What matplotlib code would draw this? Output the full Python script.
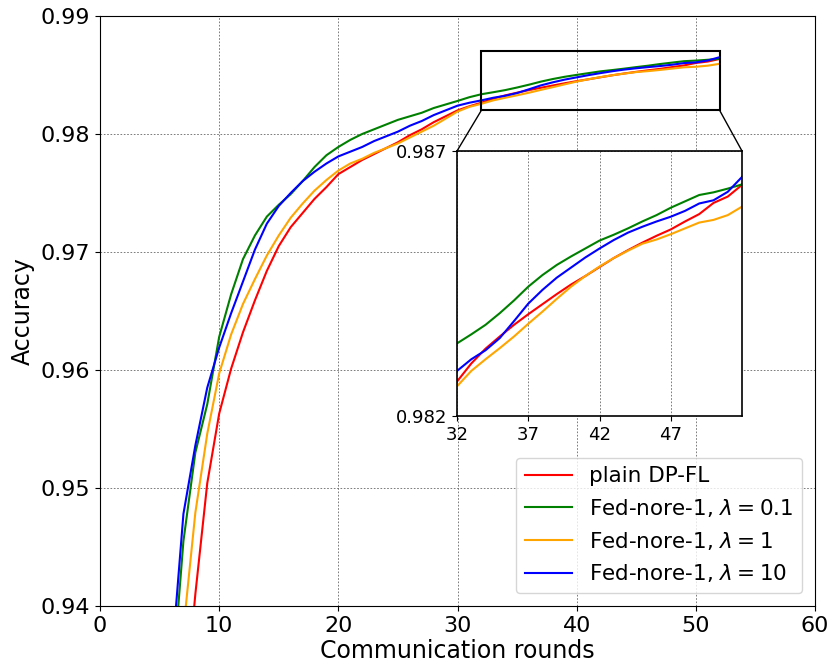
import matplotlib
matplotlib.use("Agg")
import matplotlib.pyplot as plt
from matplotlib.patches import Rectangle, ConnectionPatch

rounds = list(range(5, 53))

plain_dpfl = [0.8800, 0.9050, 0.9299, 0.9410, 0.9504, 0.9563, 0.9601, 0.9632, 0.9659, 0.9684,
              0.9705, 0.9721, 0.9733, 0.9745, 0.9755, 0.9766, 0.9772, 0.9778, 0.9783, 0.9788,
              0.9793, 0.9799, 0.9804, 0.9810, 0.9815, 0.9820, 0.98235, 0.98265, 0.98299, 0.98327,
              0.98350, 0.98372, 0.98392, 0.98411, 0.98430, 0.98448, 0.98464, 0.98481, 0.98498, 0.98513,
              0.98527, 0.98540, 0.98552, 0.98567, 0.98581, 0.98602, 0.98614, 0.98636]

nore_01 = [0.9120, 0.9327, 0.9455, 0.9530, 0.9571, 0.9628, 0.9664, 0.9694, 0.9714, 0.9730,
           0.9740, 0.9749, 0.9760, 0.9772, 0.9782, 0.9789, 0.9795, 0.9800, 0.9804, 0.9808,
           0.9812, 0.9815, 0.9818, 0.9822, 0.9825, 0.9828, 0.98312, 0.98337, 0.98354, 0.98372,
           0.98394, 0.98418, 0.98444, 0.98466, 0.98485, 0.98501, 0.98516, 0.98531, 0.98542, 0.98554,
           0.98567, 0.98579, 0.98593, 0.98605, 0.98617, 0.98622, 0.98629, 0.98637]

nore_1 = [0.8900, 0.9180, 0.9380, 0.9479, 0.9546, 0.9597, 0.9630, 0.9656, 0.9677, 0.9697,
          0.9714, 0.9729, 0.9741, 0.9752, 0.9761, 0.9769, 0.9775, 0.9779, 0.9784, 0.9788,
          0.9792, 0.9797, 0.9802, 0.9807, 0.9813, 0.9819, 0.9823, 0.98256, 0.98285, 0.98307,
          0.98328, 0.98350, 0.98374, 0.98397, 0.98421, 0.98444, 0.98464, 0.98482, 0.98498, 0.98512,
          0.98525, 0.98533, 0.98543, 0.98554, 0.98565, 0.98570, 0.98579, 0.98595]

nore_10 = [0.9150, 0.9352, 0.9478, 0.9536, 0.9585, 0.9619, 0.9648, 0.9675, 0.9702, 0.9724,
           0.9739, 0.9750, 0.9760, 0.9768, 0.9775, 0.9781, 0.9785, 0.9789, 0.9794, 0.9798,
           0.9802, 0.9807, 0.9811, 0.9816, 0.9820, 0.9824, 0.98265, 0.98285, 0.98307, 0.98324,
           0.98347, 0.98379, 0.98412, 0.98438, 0.98461, 0.98480, 0.98499, 0.98516, 0.98532, 0.98546,
           0.98557, 0.98567, 0.98576, 0.98587, 0.98601, 0.98607, 0.98623, 0.98651]

series = [
    (plain_dpfl, "red", "plain DP-FL"),
    (nore_01, "green", r"Fed-nore-1, $\lambda = 0.1$"),
    (nore_1, "orange", r"Fed-nore-1, $\lambda = 1$"),
    (nore_10, "blue", r"Fed-nore-1, $\lambda = 10$"),
]

main_xticks = [0, 10, 20, 30, 40, 50, 60]
main_yticks = [0.94, 0.95, 0.96, 0.97, 0.98, 0.99]
inset_xticks = [32, 37, 42, 47]
inset_yticks = [0.982, 0.987]

grid_kw = dict(linestyle=(0, (2, 2)), color="0.4", lw=0.6)

fig = plt.figure(figsize=(8.32, 6.67), dpi=100)
ax = fig.add_axes([100/832, 1-606/667, 715/832, 590/667])

for vals, col, lab in series:
    ax.plot(rounds, vals, color=col, lw=1.5, label=lab)

ax.set_xlim(0, 60)
ax.set_ylim(0.94, 0.99)
ax.set_xticks(main_xticks)
ax.set_yticks(main_yticks)
ax.tick_params(labelsize=16)
ax.set_xlabel("Communication rounds", fontsize=17, labelpad=2)
ax.set_ylabel("Accuracy", fontsize=17)
ax.grid(True, **grid_kw)
ax.legend(loc="lower right", fontsize=15.5, borderaxespad=0.6, handlelength=2.2)

# inset
axins = fig.add_axes([457/832, 1-416/667, 285/832, 265/667])
for vals, col, lab in series:
    axins.plot(rounds, vals, color=col, lw=1.5)
axins.set_xlim(32, 52)
axins.set_ylim(0.982, 0.987)
axins.set_xticks(inset_xticks)
axins.set_yticks(inset_yticks)
axins.tick_params(labelsize=13)
axins.grid(True, **grid_kw)
for s in axins.spines.values():
    s.set_linewidth(1.2)

rect = Rectangle((32, 0.982), 20, 0.005, fill=False, edgecolor="black", lw=1.5, zorder=5)
ax.add_patch(rect)
for (xd, yd), (xa, ya) in [((32, 0.982), (0, 1)), ((52, 0.982), (1, 1))]:
    con = ConnectionPatch(xyA=(xd, yd), coordsA=ax.transData,
                          xyB=(xa, ya), coordsB=axins.transAxes,
                          color="black", lw=1.0)
    fig.add_artist(con)

fig.savefig("out.png", dpi=100)
